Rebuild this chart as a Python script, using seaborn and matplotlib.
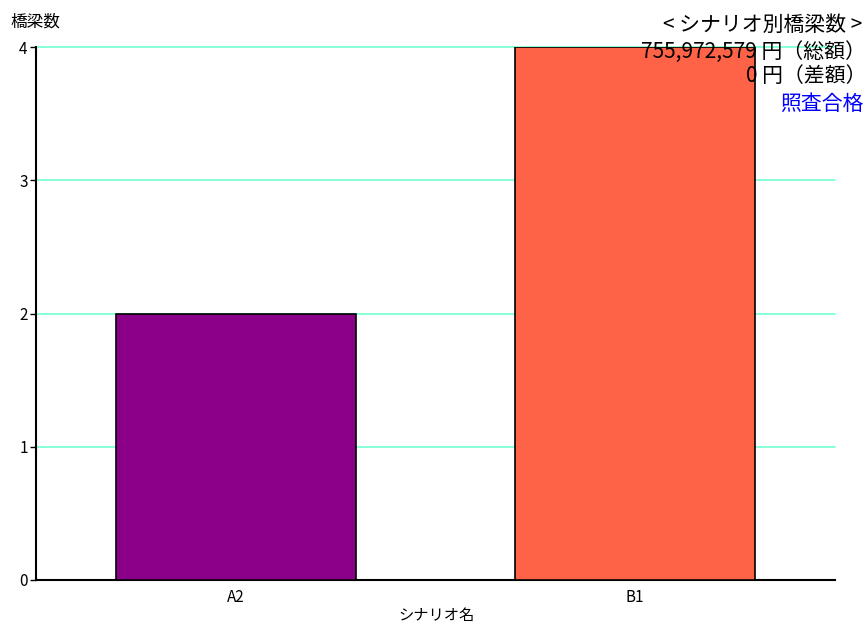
import seaborn as sns
import matplotlib.pyplot as plt
import pandas as pd

# シナリオ別橋梁数
scenarios = ['A2', 'B1']
bridge_counts = [2, 4]
bar_colors = ['#8b0088', '#ff6347']
total_text = '755,972,579 円（総額）'
diff_text = '0 円（差額）'
status_text = '照査合格'

sns.set_style('white')
plt.rcParams['font.family'] = ['Noto Sans CJK JP', 'DejaVu Sans']
plt.rcParams['text.color'] = 'black'
plt.rcParams['xtick.color'] = 'black'
plt.rcParams['ytick.color'] = 'black'

df = pd.DataFrame({'シナリオ名': scenarios, '橋梁数': bridge_counts})

fig = plt.figure(figsize=(8.67, 6.26), dpi=100)
ax = fig.add_axes([36 / 867, 1 - 580 / 626, (835 - 36) / 867, (580 - 47) / 626])

sns.barplot(data=df, x='シナリオ名', y='橋梁数', hue='シナリオ名',
            palette=bar_colors, saturation=1, width=0.6, edgecolor='black',
            linewidth=1.2, legend=False, ax=ax, zorder=3)

ax.set_ylim(0, 4)
ax.set_xlim(-0.5, 1.5)
ax.set_yticks([0, 1, 2, 3, 4])
ax.yaxis.grid(True, color='#7fffd4', linewidth=1.3, zorder=0)
for gl in ax.get_ygridlines():
    gl.set_clip_on(False)
ax.set_axisbelow(True)
for s in ['top', 'right']:
    ax.spines[s].set_visible(False)
for s in ['left', 'bottom']:
    ax.spines[s].set_color('black')
    ax.spines[s].set_linewidth(1.5)
ax.tick_params(axis='y', left=True, length=4, width=1, labelsize=11, pad=2)
ax.tick_params(axis='x', bottom=False, labelsize=11, pad=3)
ax.set_xlabel('')
ax.set_ylabel('')

fig.text(436 / 867, 1 - 615 / 626, 'シナリオ名', fontsize=11, ha='center', va='center')
fig.text(10 / 867, 1 - 22 / 626, '橋梁数', fontsize=12, va='center', ha='left')

fig.text(862 / 867, 1 - 25 / 626, '< シナリオ別橋梁数 >', fontsize=15, ha='right', va='center')
fig.text(866 / 867, 1 - 52 / 626, total_text, fontsize=15, ha='right', va='center')
fig.text(866 / 867, 1 - 76 / 626, diff_text, fontsize=15, ha='right', va='center')
fig.text(864 / 867, 1 - 104 / 626, status_text, fontsize=15, ha='right', va='center', color='#0000ff')

fig.savefig('out.png', dpi=100)
